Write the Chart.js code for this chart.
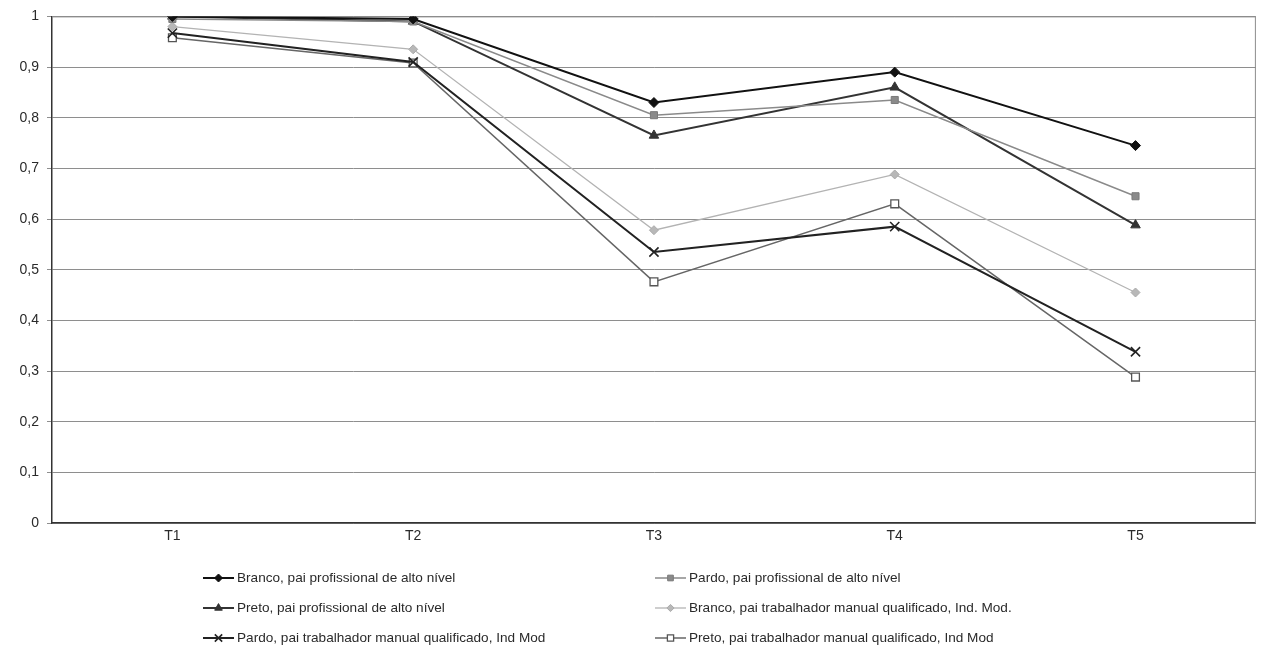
<!DOCTYPE html>
<html>
<head>
<meta charset="utf-8">
<script src="https://cdn.jsdelivr.net/npm/chart.js@4/dist/chart.umd.min.js"></script>
<style>
  html, body { margin: 0; padding: 0; background: #ffffff; }
  #wrap { width: 1264px; height: 649px; position: relative; }
</style>
</head>
<body>
<div id="wrap"><canvas id="c" width="1264" height="649"></canvas></div>
<script>
const categories = ['T1', 'T2', 'T3', 'T4', 'T5'];
const yTickLabels = ['0', '0,1', '0,2', '0,3', '0,4', '0,5', '0,6', '0,7', '0,8', '0,9', '1'];

const seriesNames = [
  'Branco, pai profissional de alto nível',
  'Pardo, pai profissional de alto nível',
  'Preto, pai profissional de alto nível',
  'Branco, pai trabalhador manual qualificado, Ind. Mod.',
  'Pardo, pai trabalhador manual qualificado, Ind Mod',
  'Preto, pai trabalhador manual qualificado, Ind Mod'
];

const brancoProf = [1.0, 0.995, 0.83, 0.89, 0.745];
const pardoProf  = [0.995, 0.99, 0.805, 0.835, 0.645];
const pretoProf  = [1.0, 0.99, 0.765, 0.86, 0.588];
const brancoTrab = [0.98, 0.935, 0.578, 0.688, 0.455];
const pardoTrab  = [0.967, 0.91, 0.535, 0.585, 0.338];
const pretoTrab  = [0.958, 0.908, 0.476, 0.63, 0.288];

const FONT = '"Liberation Sans", Arial, sans-serif';
const TXT = '#2a2a2a';

const styles = [
  { line: '#111111', width: 2,   ps: 'rectRot',  r: 5,   bg: '#111111', bc: '#111111', bw: 1 },
  { line: '#8a8a8a', width: 1.5, ps: 'rect',     r: 5,   bg: '#8a8a8a', bc: '#7a7a7a', bw: 1 },
  { line: '#333333', width: 2,   ps: 'triangle', r: 5.5, bg: '#333333', bc: '#333333', bw: 1 },
  { line: '#b3b3b3', width: 1.3, ps: 'rectRot',  r: 4.5, bg: '#b8b8b8', bc: '#aaaaaa', bw: 1 },
  { line: '#222222', width: 2,   ps: 'crossRot', r: 6.5, bg: '#222222', bc: '#222222', bw: 1.6 },
  { line: '#666666', width: 1.5, ps: 'rect',     r: 5.5, bg: '#ffffff', bc: '#555555', bw: 1.3 }
];
const values = [brancoProf, pardoProf, pretoProf, brancoTrab, pardoTrab, pretoTrab];

const datasets = values.map((v, i) => ({
  label: seriesNames[i],
  data: v,
  borderColor: styles[i].line,
  borderWidth: styles[i].width,
  pointStyle: styles[i].ps,
  pointRadius: styles[i].r,
  pointBackgroundColor: styles[i].bg,
  pointBorderColor: styles[i].bc,
  pointBorderWidth: styles[i].bw,
  tension: 0,
  fill: false
}));

const framePlugin = {
  id: 'frame',
  beforeDatasetsDraw(chart) {
    const { ctx, chartArea: a } = chart;
    ctx.save();
    ctx.strokeStyle = '#8c8c8c';
    ctx.lineWidth = 1;
    ctx.beginPath();
    ctx.moveTo(a.left, a.top + 0.5);
    ctx.lineTo(a.right - 0.5, a.top + 0.5);
    ctx.lineTo(a.right - 0.5, a.bottom);
    ctx.stroke();
    ctx.restore();
  }
};

const legendPlugin = {
  id: 'colLegend',
  afterDraw(chart) {
    const ctx = chart.ctx;
    const colX = [203, 655];
    const rowY = [578, 608, 638];
    ctx.save();
    ctx.font = '13.6px ' + FONT;
    ctx.textBaseline = 'middle';
    ctx.textAlign = 'left';
    chart.data.datasets.forEach((ds, i) => {
      const x0 = colX[i % 2];
      const y = rowY[Math.floor(i / 2)];
      ctx.strokeStyle = ds.borderColor;
      ctx.lineWidth = ds.borderWidth;
      ctx.beginPath();
      ctx.moveTo(x0, y);
      ctx.lineTo(x0 + 31, y);
      ctx.stroke();
      ctx.fillStyle = ds.pointBackgroundColor;
      ctx.strokeStyle = ds.pointBorderColor;
      ctx.lineWidth = ds.pointBorderWidth;
      if (Chart.helpers && Chart.helpers.drawPoint) {
        Chart.helpers.drawPoint(ctx, { pointStyle: ds.pointStyle, rotation: 0, radius: ds.pointRadius * 0.8, borderWidth: ds.pointBorderWidth }, x0 + 15.5, y);
      }
      ctx.fillStyle = TXT;
      ctx.fillText(ds.label, x0 + 34, y);
    });
    ctx.restore();
  }
};

new Chart(document.getElementById('c'), {
  type: 'line',
  data: { labels: categories, datasets },
  plugins: [framePlugin, legendPlugin],
  options: {
    responsive: false,
    animation: false,
    devicePixelRatio: 1,
    layout: { padding: { left: 0, right: 8, top: 14, bottom: 0 } },
    plugins: {
      legend: { display: false },
      tooltip: { enabled: false },
      title: { display: false }
    },
    scales: {
      x: {
        type: 'category',
        offset: true,
        grid: { display: false, drawTicks: false },
        border: { display: true, color: '#333333', width: 1.5 },
        ticks: { color: TXT, font: { family: FONT, size: 14 }, padding: 5, maxRotation: 0 },
        afterFit(s) { s.height = 126; }
      },
      y: {
        min: 0,
        max: 1,
        afterBuildTicks(s) {
          s.ticks = yTickLabels.map((_, k) => ({ value: k / 10 }));
        },
        grid: { color: '#8e8e8e', lineWidth: 1, tickLength: 5, drawTicks: true },
        border: { display: true, color: '#333333', width: 1.5 },
        ticks: {
          color: TXT,
          font: { family: FONT, size: 14 },
          padding: 8,
          callback(value, index) { return yTickLabels[index]; }
        },
        afterFit(s) { s.width = 52; }
      }
    }
  }
});
</script>
</body>
</html>
